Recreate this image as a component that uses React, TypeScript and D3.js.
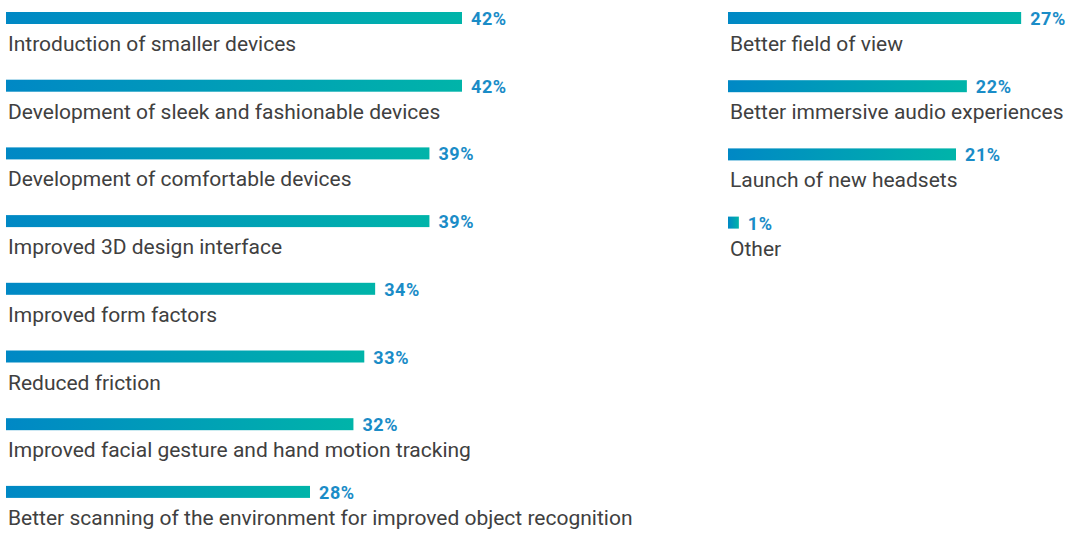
import React from "react";
import * as d3 from "d3";

const leftCategories = [
  "Introduction of smaller devices",
  "Development of sleek and fashionable devices",
  "Development of comfortable devices",
  "Improved 3D design interface",
  "Improved form factors",
  "Reduced friction",
  "Improved facial gesture and hand motion tracking",
  "Better scanning of the environment for improved object recognition",
];
const leftValues = [42, 42, 39, 39, 34, 33, 32, 28];

const rightCategories = [
  "Better field of view",
  "Better immersive audio experiences",
  "Launch of new headsets",
  "Other",
];
const rightValues = [27, 22, 21, 1];

const W = 1071;
const H = 533;

export default function App() {
  const x = d3.scaleLinear().domain([0, 42]).range([0, 456]);
  const yLeft = d3
    .scaleBand<number>()
    .domain(d3.range(8))
    .range([12, 12 + 67.7 * 8])
    .paddingInner(0)
    .paddingOuter(0);
  const yRight = d3
    .scaleBand<number>()
    .domain(d3.range(4))
    .range([12, 12 + 68.2 * 4]);

  const columns = [
    { x0: 6, cats: leftCategories, vals: leftValues, y: yLeft },
    { x0: 728, cats: rightCategories, vals: rightValues, y: yRight },
  ];

  return (
    <div style={{ position: "absolute", left: 0, top: 0 }}>
      <svg width={W} height={H} style={{ display: "block", background: "#fff" }}>
        <defs>
          <linearGradient id="barGrad" x1="0" y1="0" x2="1" y2="0">
            <stop offset="0%" stopColor="#0088c5" />
            <stop offset="100%" stopColor="#00b4a9" />
          </linearGradient>
        </defs>
        {columns.map((col, ci) => (
          <g key={ci} transform={`translate(${col.x0},0)`}>
            {col.cats.map((c, i) => {
              const top = col.y(i)!;
              const w = x(col.vals[i]);
              return (
                <g key={c}>
                  <rect x={0} y={top} width={w} height={12} fill="url(#barGrad)" />
                  <text
                    x={w + 9}
                    y={top + 13}
                    fill="#1a8cc7"
                    fontFamily="Roboto, 'DejaVu Sans', sans-serif"
                    fontWeight={700}
                    fontSize={18}
                    letterSpacing={0.6}
                  >
                    {col.vals[i]}%
                  </text>
                  <text
                    x={2}
                    y={top + 39}
                    fill="#404040"
                    fontFamily="Roboto, 'DejaVu Sans', sans-serif"
                    fontSize={21}
                  >
                    {c}
                  </text>
                </g>
              );
            })}
          </g>
        ))}
      </svg>
    </div>
  );
}
